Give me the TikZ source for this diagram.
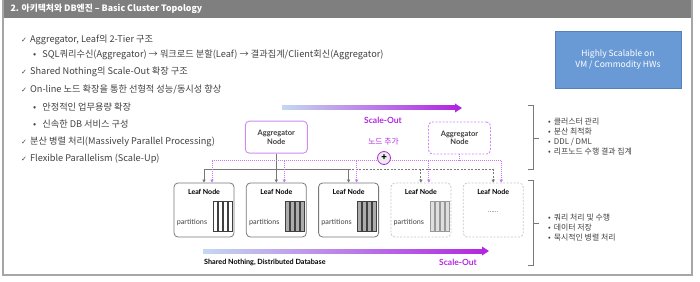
\documentclass[tikz,border=0pt]{standalone}
\usepackage{fontspec}
\setmainfont{Noto Sans CJK KR}
\newfontfamily\latofont{Lato}
\newfontfamily\symfont{DejaVu Sans}
\usetikzlibrary{positioning, arrows.meta, calc}

\definecolor{framegray}{RGB}{166,166,166}
\definecolor{headgray}{RGB}{127,127,127}
\definecolor{txtgray}{RGB}{64,64,64}
\definecolor{linegray}{RGB}{120,120,120}
\definecolor{scalepurple}{RGB}{178,40,226}
\definecolor{aggpurple}{RGB}{204,140,242}
\definecolor{dotpurple}{RGB}{200,120,244}
\definecolor{hwblue}{RGB}{106,154,214}
\definecolor{hwborder}{RGB}{84,128,188}
\definecolor{shaftblue}{RGB}{196,216,240}

\begin{document}
\begin{tikzpicture}[x=1pt, y=1pt,
    agg/.style={draw=aggpurple, rounded corners=4pt, minimum width=62pt, minimum height=32pt,
      line width=0.9pt, fill=white, align=center, text=txtgray,
      font=\latofont\bfseries\fontsize{7.5}{8.5}\selectfont},
    leaf/.style={draw=linegray, rounded corners=4pt, minimum width=60pt, minimum height=54pt,
      line width=0.8pt},
    newleaf/.style={leaf, draw=gray!45, dash pattern=on 2pt off 1.5pt},
    item/.style={anchor=west, font=\fontsize{9.2}{10}\selectfont, text=txtgray, inner sep=0pt},
    note/.style={anchor=west, align=left, text=txtgray, inner sep=0pt,
      font=\fontsize{7.9}{10}\selectfont},
    gline/.style={draw=linegray, line width=0.9pt},
    gtip/.style={gline, -{Triangle[length=3pt, width=3.2pt]}},
    pline/.style={draw=dotpurple, line width=1pt, dash pattern=on 1pt off 1pt},
    ptip/.style={pline, -{Triangle[length=3pt, width=3.2pt, fill=dotpurple]}},
    purplelabel/.style={text=scalepurple, font=\latofont\bfseries\fontsize{8.5}{10}\selectfont},
    node distance=29pt and 11.5pt]
  \useasboundingbox (0,0) rectangle (700,281);

  % frame and title bar
  \fill[headgray] (3,263) rectangle (692,281);
  \draw[framegray, line width=1.2pt] (692,281) -- (692,6) -- (3,6) -- (3,281);
  \node[anchor=west, text=white, font=\bfseries\fontsize{8.8}{10}\selectfont] (title) at (7,272)
    {2. 아키텍처와 DB엔진 – Basic Cluster Topology};

  % left text
  \node[item] (t1) at (21,241) {{\symfont\fontsize{7}{8}\selectfont ✓}\hspace{3pt}Aggregator, Leaf의 2-Tier 구조};
  \node[item] (t2) at (33,226) {•\hspace{6pt}SQL쿼리수신(Aggregator) → 워크로드 분할(Leaf) → 결과집계/Client회신(Aggregator)};
  \node[item] (t3) at (21,209) {{\symfont\fontsize{7}{8}\selectfont ✓}\hspace{3pt}Shared Nothing의 Scale-Out 확장 구조};
  \node[item] (t4) at (21,192) {{\symfont\fontsize{7}{8}\selectfont ✓}\hspace{3pt}On-line 노드 확장을 통한 선형적 성능/동시성 향상};
  \node[item] (t5) at (33,174) {•\hspace{6pt}안정적인 업무용량 확장};
  \node[item] (t6) at (33,157) {•\hspace{6pt}신속한 DB 서비스 구성};
  \node[item] (t7) at (21,139) {{\symfont\fontsize{7}{8}\selectfont ✓}\hspace{3pt}분산 병렬 처리(Massively Parallel Processing)};
  \node[item] (t8) at (21,122) {{\symfont\fontsize{7}{8}\selectfont ✓}\hspace{3pt}Flexible Parallelism (Scale-Up)};

  % blue box
  \node[draw=hwborder, fill=hwblue, minimum width=126pt, minimum height=57pt, align=center,
    text=white, font=\fontsize{8.5}{11}\selectfont] (hw) at (618,221.5)
    {Highly Scalable on\\VM / Commodity HWs};

  % leaf nodes
  \node[leaf] (leaf1) at (204,71) {};
  \node[leaf, right=of leaf1] (leaf2) {};
  \node[leaf, right=of leaf2] (leaf3) {};
  \node[newleaf, right=of leaf3] (leaf4) {};
  \node[newleaf, right=of leaf4] (leaf5) {};
  \foreach \i in {1,...,5}
    \node[font=\latofont\bfseries\fontsize{7}{8}\selectfont] (name\i) at ($(leaf\i.north)+(0,-9)$) {Leaf Node};
  \foreach \i/\barfill/\bardraw in {1/white/txtgray, 2/gray!65/txtgray, 3/gray!65/txtgray, 4/gray!25/gray!80} {
    \node[anchor=west, inner sep=0pt, text=txtgray, font=\latofont\fontsize{7.2}{8}\selectfont]
      (part\i) at ($(leaf\i.west)+(3,-12)$) {partitions};
    \foreach \k in {0,...,3}
      \draw[draw=\bardraw, fill=\barfill, line width=0.6pt]
        ($(leaf\i.center)+(9+5*\k,-21)$) rectangle ++(4,30);
  }
  \node[font=\fontsize{6}{7}\selectfont] (dots) at ($(leaf5.center)+(0,-2)$) {......};

  % aggregators
  \node[agg, above=of leaf2] (aggL) {Aggregator\\Node};
  \node[agg, dash pattern=on 2pt off 1.5pt] (aggR) at (459.5,143) {Aggregator\\Node};
  \coordinate (gbus) at (0,112);
  \coordinate (pbus) at (0,120);

  % connectors from the left aggregator
  \draw[gline] (aggL.south) -- (aggL.south |- gbus);
  \draw[gline] (leaf1.north |- gbus) -- (leaf3.north |- gbus);
  \draw[gline, dash pattern=on 2pt off 1.5pt] (leaf3.north |- gbus) -- (leaf5.north |- gbus);
  \foreach \i in {1,2,3}
    \draw[gtip] (leaf\i.north |- gbus) -- (leaf\i.north);
  \foreach \i in {4,5}
    \draw[gtip, dash pattern=on 2pt off 1.5pt] (leaf\i.north |- gbus) -- (leaf\i.north);

  % connectors from the new aggregator
  \draw[pline] (aggR.south) -- (aggR.south |- pbus);
  \draw[pline] ([xshift=8pt]leaf1.north |- pbus) -- ([xshift=8pt]leaf5.north |- pbus);
  \foreach \i in {1,...,5}
    \draw[ptip] ([xshift=8pt]leaf\i.north |- pbus) -- ([xshift=8pt]leaf\i.north);

  % add node
  \node[purplelabel, font=\fontsize{7.8}{9}\selectfont] (addlbl) at (383.5,139) {노드 추가};
  \node[circle, draw=scalepurple, fill=gray!15, line width=0.8pt, minimum size=13pt, inner sep=0pt,
    font=\bfseries\fontsize{9}{9}\selectfont] (plus) at (384,123) {+};

  % scale-out arrows
  \shade[left color=shaftblue, middle color=violet!25, right color=scalepurple] (282,171) rectangle (455,175);
  \fill[scalepurple] (455,168.5) -- (462,173) -- (455,177.5) -- cycle;
  \node[purplelabel] (scaletop) at (383,161) {Scale-Out};
  \shade[left color=shaftblue, middle color=violet!25, right color=scalepurple] (203,28) rectangle (482,32);
  \fill[scalepurple] (482,25.5) -- (489,30) -- (482,34.5) -- cycle;
  \node[anchor=west, inner sep=0pt, font=\latofont\bfseries\fontsize{7.2}{8}\selectfont] (sndb) at (204,19)
    {Shared Nothing, Distributed Database};
  \node[purplelabel] (scalebot) at (458,18.5) {Scale-Out};

  % brackets
  \draw[linegray, line width=0.7pt] (528,176) -- (533,176) -- (533,112) -- (528,112);
  \draw[linegray, line width=0.7pt] (533,143) -- (539,143);
  \draw[linegray, line width=0.7pt] (528,101) -- (533,101) -- (533,16) -- (528,16);
  \draw[linegray, line width=0.7pt] (533,58) -- (539,58);

  % roles
  \node[note] (aggroles) at (548,144)
    {•\hspace{3pt}클러스터 관리\\•\hspace{3pt}분산 최적화\\•\hspace{3pt}DDL / DML\\•\hspace{3pt}리프노드 수행 결과 집계};
  \node[note] (leafroles) at (548,53)
    {•\hspace{3pt}쿼리 처리 및 수행\\•\hspace{3pt}데이터 저장\\•\hspace{3pt}묵시적인 병렬 처리};
\end{tikzpicture}
\end{document}
